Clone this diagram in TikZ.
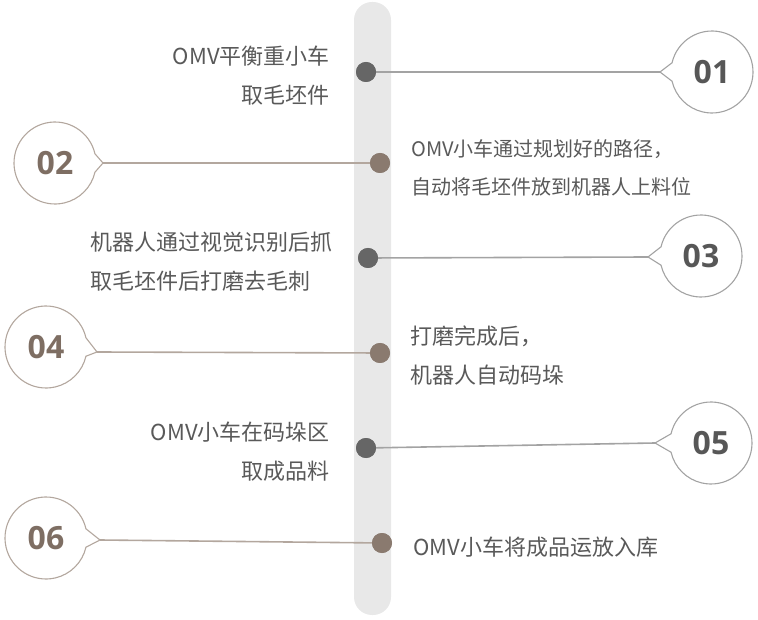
\documentclass[tikz,border=0pt]{standalone}
\usepackage{fontspec}
\setmainfont{Noto Sans CJK SC}
\newfontfamily\numfont{Open Sans}
\usetikzlibrary{positioning}

\definecolor{bargray}{HTML}{E8E8E8}
\definecolor{txtgray}{HTML}{595959}
\definecolor{dotgray}{HTML}{666666}
\definecolor{dotbrown}{HTML}{8A7A6F}
\definecolor{linegray}{HTML}{A3A3A3}
\definecolor{linebrown}{HTML}{B3A79E}
\definecolor{numgray}{HTML}{575757}
\definecolor{numbrown}{HTML}{7E6E63}

\begin{document}
\begin{tikzpicture}[x=1pt,y=-1pt,
    every node/.style={text=txtgray},
    txt/.style={font=\fontsize{22}{39}\selectfont, inner sep=0pt},
    txtsmall/.style={font=\fontsize{20}{38}\selectfont, inner sep=0pt},
    dotg/.style={circle, fill=dotgray, minimum size=20pt, inner sep=0pt},
    dotb/.style={circle, fill=dotbrown, minimum size=20pt, inner sep=0pt},
    numr/.style={circle, minimum size=82pt, inner sep=0pt, outer sep=0pt,
        font=\numfont\bfseries\fontsize{32}{32}\selectfont, text=numgray},
    numl/.style={numr, text=numbrown},
    rimr/.style={draw=linegray, line width=1.1pt, fill=white},
    riml/.style={draw=linebrown, line width=1.1pt, fill=white},
    linkr/.style={draw=linegray, line width=1.6pt},
    linkl/.style={draw=linebrown, line width=1.6pt}]
    \useasboundingbox (0,0) rectangle (758,620);
    % the bar in the middle
    \fill [bargray, rounded corners=18pt] (354,2) rectangle (391,615);

    % dots on the bar
    \node [dotg] (d1) at (366,72) {};
    \node [dotb] (d2) at (380,163) {};
    \node [dotg] (d3) at (368,258) {};
    \node [dotb] (d4) at (380,353) {};
    \node [dotg] (d5) at (366,448) {};
    \node [dotb] (d6) at (382,543) {};

    % tips of the bubbles
    \coordinate (t1) at (660,72);
    \coordinate (t2) at (103,163);
    \coordinate (t3) at (648,257);
    \coordinate (t4) at (97,352);
    \coordinate (t5) at (655,443);
    \coordinate (t6) at (100,540);

    % connectors
    \draw [linkr] (d1.center) -- (t1);
    \draw [linkl] (d2.center) -- (t2);
    \draw [linkr] (d3.center) -- (t3);
    \draw [linkl] (d4.center) -- (t4);
    \draw [linkr] (d5.center) -- (t5);
    \draw [linkl] (d6.center) -- (t6);
    \node [dotg] at (d1) {};
    \node [dotb] at (d2) {};
    \node [dotg] at (d3) {};
    \node [dotb] at (d4) {};
    \node [dotg] at (d5) {};
    \node [dotb] at (d6) {};

    % bubbles
    \node [numr] (b1) at (712,72) {};
    \node [numl] (b2) at (55,163) {};
    \node [numr] (b3) at (701,256) {};
    \node [numl] (b4) at (46,347) {};
    \node [numr] (b5) at (711,443) {};
    \node [numl] (b6) at (46,538) {};
    \draw [rimr] (b1.167) arc[start angle=167, end angle=-167, radius=41pt] -- (t1) -- cycle;
    \draw [riml] (b2.13) arc[start angle=13, end angle=347, radius=41pt] -- (t2) -- cycle;
    \draw [rimr] (b3.167) arc[start angle=167, end angle=-167, radius=41pt] -- (t3) -- cycle;
    \draw [riml] (b4.13) arc[start angle=13, end angle=347, radius=41pt] -- (t4) -- cycle;
    \draw [rimr] (b5.167) arc[start angle=167, end angle=-167, radius=41pt] -- (t5) -- cycle;
    \draw [riml] (b6.13) arc[start angle=13, end angle=347, radius=41pt] -- (t6) -- cycle;
    \node [numr] at (b1) {01};
    \node [numl] at (b2) {02};
    \node [numr] at (b3) {03};
    \node [numl] at (b4) {04};
    \node [numr] at (b5) {05};
    \node [numl] at (b6) {06};

    % texts
    \node [txt, anchor=east, align=right] (s1) at (330,76) {OMV平衡重小车\\取毛坯件};
    \node [txtsmall, anchor=west, align=left] (s2) at (411,168) {OMV小车通过规划好的路径，\\自动将毛坯件放到机器人上料位};
    \node [txt, anchor=west, align=left] (s3) at (90,262) {机器人通过视觉识别后抓\\取毛坯件后打磨去毛刺};
    \node [txt, anchor=west, align=left] (s4) at (410,356) {打磨完成后，\\机器人自动码垛};
    \node [txt, anchor=east, align=right] (s5) at (330,452) {OMV小车在码垛区\\取成品料};
    \node [txt, anchor=west, align=left] (s6) at (413,547) {OMV小车将成品运放入库};
\end{tikzpicture}
\end{document}
